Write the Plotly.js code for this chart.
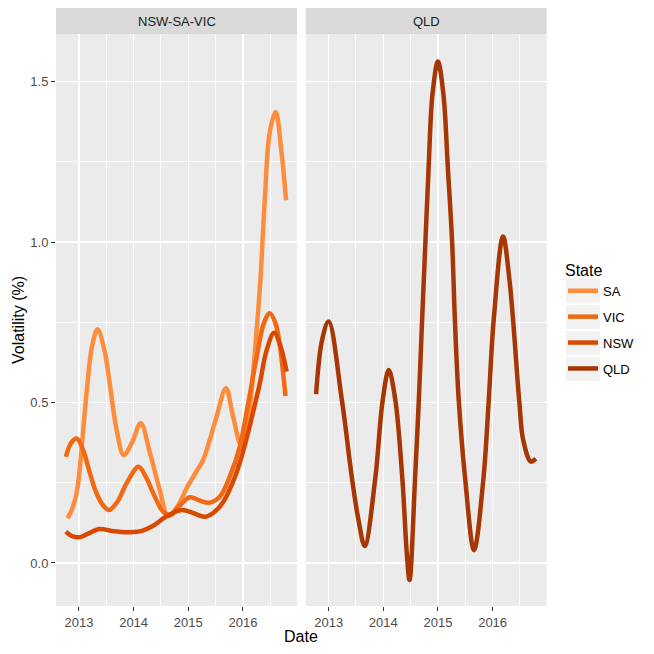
<!DOCTYPE html>
<html>
<head>
<meta charset="utf-8">
<script src="https://cdn.plot.ly/plotly-3.0.1.min.js"></script>
<style>html,body{margin:0;padding:0;background:#fff;}#chart{width:654px;height:654px;}</style>
</head>
<body>
<div id="chart"></div>
<script>
// ---- data (decimal years, volatility %) ----
const dates_SA = [2012.79, 2012.88, 2012.97, 2013.05, 2013.14, 2013.24, 2013.34, 2013.47, 2013.57, 2013.69, 2013.82, 2013.97, 2014.13, 2014.30, 2014.48, 2014.63, 2014.80, 2014.97, 2015.15, 2015.27, 2015.50, 2015.69, 2015.82, 2015.97, 2016.07, 2016.16, 2016.24, 2016.32, 2016.40, 2016.49, 2016.60, 2016.70, 2016.79];
const vol_SA = [0.14, 0.17, 0.23, 0.36, 0.53, 0.675, 0.728, 0.66, 0.55, 0.414, 0.336, 0.375, 0.435, 0.342, 0.227, 0.146, 0.175, 0.233, 0.285, 0.32, 0.445, 0.544, 0.456, 0.367, 0.414, 0.54, 0.70, 0.88, 1.13, 1.34, 1.405, 1.29, 1.13];

const dates_VIC = [2012.76, 2012.86, 2012.96, 2013.08, 2013.20, 2013.32, 2013.44, 2013.55, 2013.70, 2013.87, 2014.09, 2014.22, 2014.36, 2014.54, 2014.68, 2014.85, 2015.03, 2015.20, 2015.39, 2015.58, 2015.76, 2015.94, 2016.10, 2016.25, 2016.38, 2016.49, 2016.60, 2016.67, 2016.78];
const vol_VIC = [0.331, 0.375, 0.388, 0.35, 0.28, 0.218, 0.18, 0.165, 0.19, 0.248, 0.30, 0.27, 0.217, 0.16, 0.15, 0.18, 0.205, 0.195, 0.188, 0.207, 0.269, 0.36, 0.50, 0.64, 0.745, 0.778, 0.745, 0.684, 0.52];

const dates_NSW = [2012.76, 2012.86, 2013.00, 2013.15, 2013.38, 2013.60, 2013.93, 2014.15, 2014.35, 2014.59, 2014.88, 2015.10, 2015.30, 2015.45, 2015.64, 2015.80, 2015.94, 2016.10, 2016.20, 2016.31, 2016.43, 2016.57, 2016.68, 2016.80];
const vol_NSW = [0.098, 0.085, 0.08, 0.09, 0.106, 0.10, 0.096, 0.10, 0.115, 0.144, 0.165, 0.155, 0.144, 0.155, 0.19, 0.245, 0.31, 0.41, 0.48, 0.56, 0.66, 0.717, 0.68, 0.596];

const dates_QLD = [2012.77, 2012.88, 2013.00, 2013.24, 2013.43, 2013.55, 2013.66, 2013.85, 2013.99, 2014.10, 2014.22, 2014.35, 2014.43, 2014.48, 2014.58, 2014.65, 2014.71, 2014.77, 2014.83, 2014.90, 2015.00, 2015.10, 2015.18, 2015.26, 2015.31, 2015.38, 2015.50, 2015.66, 2015.83, 2015.93, 2016.02, 2016.19, 2016.31, 2016.49, 2016.56, 2016.70, 2016.79];
const vol_QLD = [0.526, 0.695, 0.752, 0.51, 0.26, 0.13, 0.053, 0.259, 0.508, 0.601, 0.508, 0.259, 0.03, -0.053, 0.259, 0.508, 0.757, 0.997, 1.235, 1.46, 1.562, 1.46, 1.235, 0.997, 0.757, 0.508, 0.259, 0.04, 0.259, 0.508, 0.757, 1.017, 0.88, 0.5, 0.383, 0.316, 0.325];

const panelLabels = ["NSW-SA-VIC", "QLD"];
const stateNames = ["SA", "VIC", "NSW", "QLD"];
const yearTicks = [2013, 2014, 2015, 2016];
const yTicks = [0, 0.5, 1.0, 1.5];

const colors = {SA: "#fd8d3c", VIC: "#f16913", NSW: "#d94801", QLD: "#a63603"};

function tr(name, x, y, xa, ya) {
  return {
    type: "scatter", mode: "lines", name: name, x: x, y: y,
    xaxis: xa, yaxis: ya, legendgroup: name,
    line: {color: colors[name], width: 4.5, shape: "spline", smoothing: 1},
    hoverinfo: "skip"
  };
}

const data = [
  tr("SA", dates_SA, vol_SA, "x", "y"),
  tr("VIC", dates_VIC, vol_VIC, "x", "y"),
  tr("NSW", dates_NSW, vol_NSW, "x", "y"),
  tr("QLD", dates_QLD, vol_QLD, "x2", "y2")
];

const W = 654, H = 654;
const pL = [56, 297], pR = [305.7, 546.7], pT = 34, pB = 606;
const xr = [2012.58, 2016.99];
const yr = [-0.134, 1.648];
const tickFont = {family: "Liberation Sans, Arial, sans-serif", size: 13, color: "#4D4D4D"};

function xax(dom, anchor) {
  return {
    domain: [dom[0] / W, dom[1] / W], anchor: anchor, range: xr,
    tickvals: yearTicks, ticktext: yearTicks.map(String),
    ticks: "outside", ticklen: 4, tickcolor: "#333333", tickwidth: 1,
    tickfont: tickFont, showgrid: true, gridcolor: "#FFFFFF", gridwidth: 1.5,
    minor: {dtick: 1, tick0: 2012.5, showgrid: true, gridcolor: "#FFFFFF", gridwidth: 0.8, ticks: ""},
    zeroline: false, showline: false, fixedrange: true
  };
}
function yax(anchor, showLabels) {
  return {
    domain: [1 - pB / H, 1 - pT / H], anchor: anchor, range: yr,
    tickvals: yTicks, ticktext: yTicks.map(v => v.toFixed(1)),
    showticklabels: showLabels,
    ticks: showLabels ? "outside" : "", ticklen: 4, tickcolor: "#333333", tickwidth: 1,
    tickfont: tickFont, showgrid: true, gridcolor: "#FFFFFF", gridwidth: 1.5,
    minor: {dtick: 0.5, tick0: 0.25, showgrid: true, gridcolor: "#FFFFFF", gridwidth: 0.8, ticks: ""},
    zeroline: false, showline: false, fixedrange: true
  };
}

const stripTop = 8;
const shapes = [
  {type: "rect", xref: "paper", yref: "paper", x0: pL[0] / W, x1: pL[1] / W, y0: 1 - pT / H, y1: 1 - stripTop / H, fillcolor: "#D9D9D9", line: {width: 0}, layer: "below"},
  {type: "rect", xref: "paper", yref: "paper", x0: pR[0] / W, x1: pR[1] / W, y0: 1 - pT / H, y1: 1 - stripTop / H, fillcolor: "#D9D9D9", line: {width: 0}, layer: "below"}
];
// legend key backgrounds (ggplot style)
stateNames.forEach((s, i) => {
  const cy = 291 + i * 26;
  shapes.push({type: "rect", xref: "paper", yref: "paper", x0: 566 / W, x1: 600 / W, y0: 1 - (cy + 12) / H, y1: 1 - (cy - 12) / H, fillcolor: "#F2F2F2", line: {width: 0}, layer: "below"});
});

const layout = {
  width: W, height: H,
  margin: {l: 0, r: 0, t: 0, b: 0},
  paper_bgcolor: "#FFFFFF", plot_bgcolor: "#EBEBEB",
  font: {family: "Liberation Sans, Arial, sans-serif", color: "#000"},
  xaxis: xax(pL, "y"),
  xaxis2: xax(pR, "y2"),
  yaxis: yax("x", true),
  yaxis2: yax("x2", false),
  showlegend: true,
  legend: {
    x: 563 / W, y: 1 - 255 / H, xanchor: "left", yanchor: "top",
    traceorder: "grouped", tracegroupgap: 6,
    title: {text: "State", font: {size: 16, color: "#000"}},
    font: {size: 13, color: "#000"},
    bgcolor: "rgba(0,0,0,0)"
  },
  shapes: shapes,
  annotations: [
    {xref: "paper", yref: "paper", x: (pL[0] + pL[1]) / 2 / W, y: 1 - (pT + stripTop) / 2 / H, text: panelLabels[0], showarrow: false, xanchor: "center", yanchor: "middle", font: {size: 13, color: "#1A1A1A"}},
    {xref: "paper", yref: "paper", x: (pR[0] + pR[1]) / 2 / W, y: 1 - (pT + stripTop) / 2 / H, text: panelLabels[1], showarrow: false, xanchor: "center", yanchor: "middle", font: {size: 13, color: "#1A1A1A"}},
    {xref: "paper", yref: "paper", x: (pL[0] + pR[1]) / 2 / W, y: 1 - 636 / H, text: "Date", showarrow: false, xanchor: "center", yanchor: "middle", font: {size: 16, color: "#000"}},
    {xref: "paper", yref: "paper", x: 18 / W, y: 1 - (pT + pB) / 2 / H, text: "Volatility (%)", textangle: -90, showarrow: false, xanchor: "center", yanchor: "middle", font: {size: 16, color: "#000"}}
  ]
};

Plotly.newPlot("chart", data, layout, {displayModeBar: false, staticPlot: true});
</script>
</body>
</html>
